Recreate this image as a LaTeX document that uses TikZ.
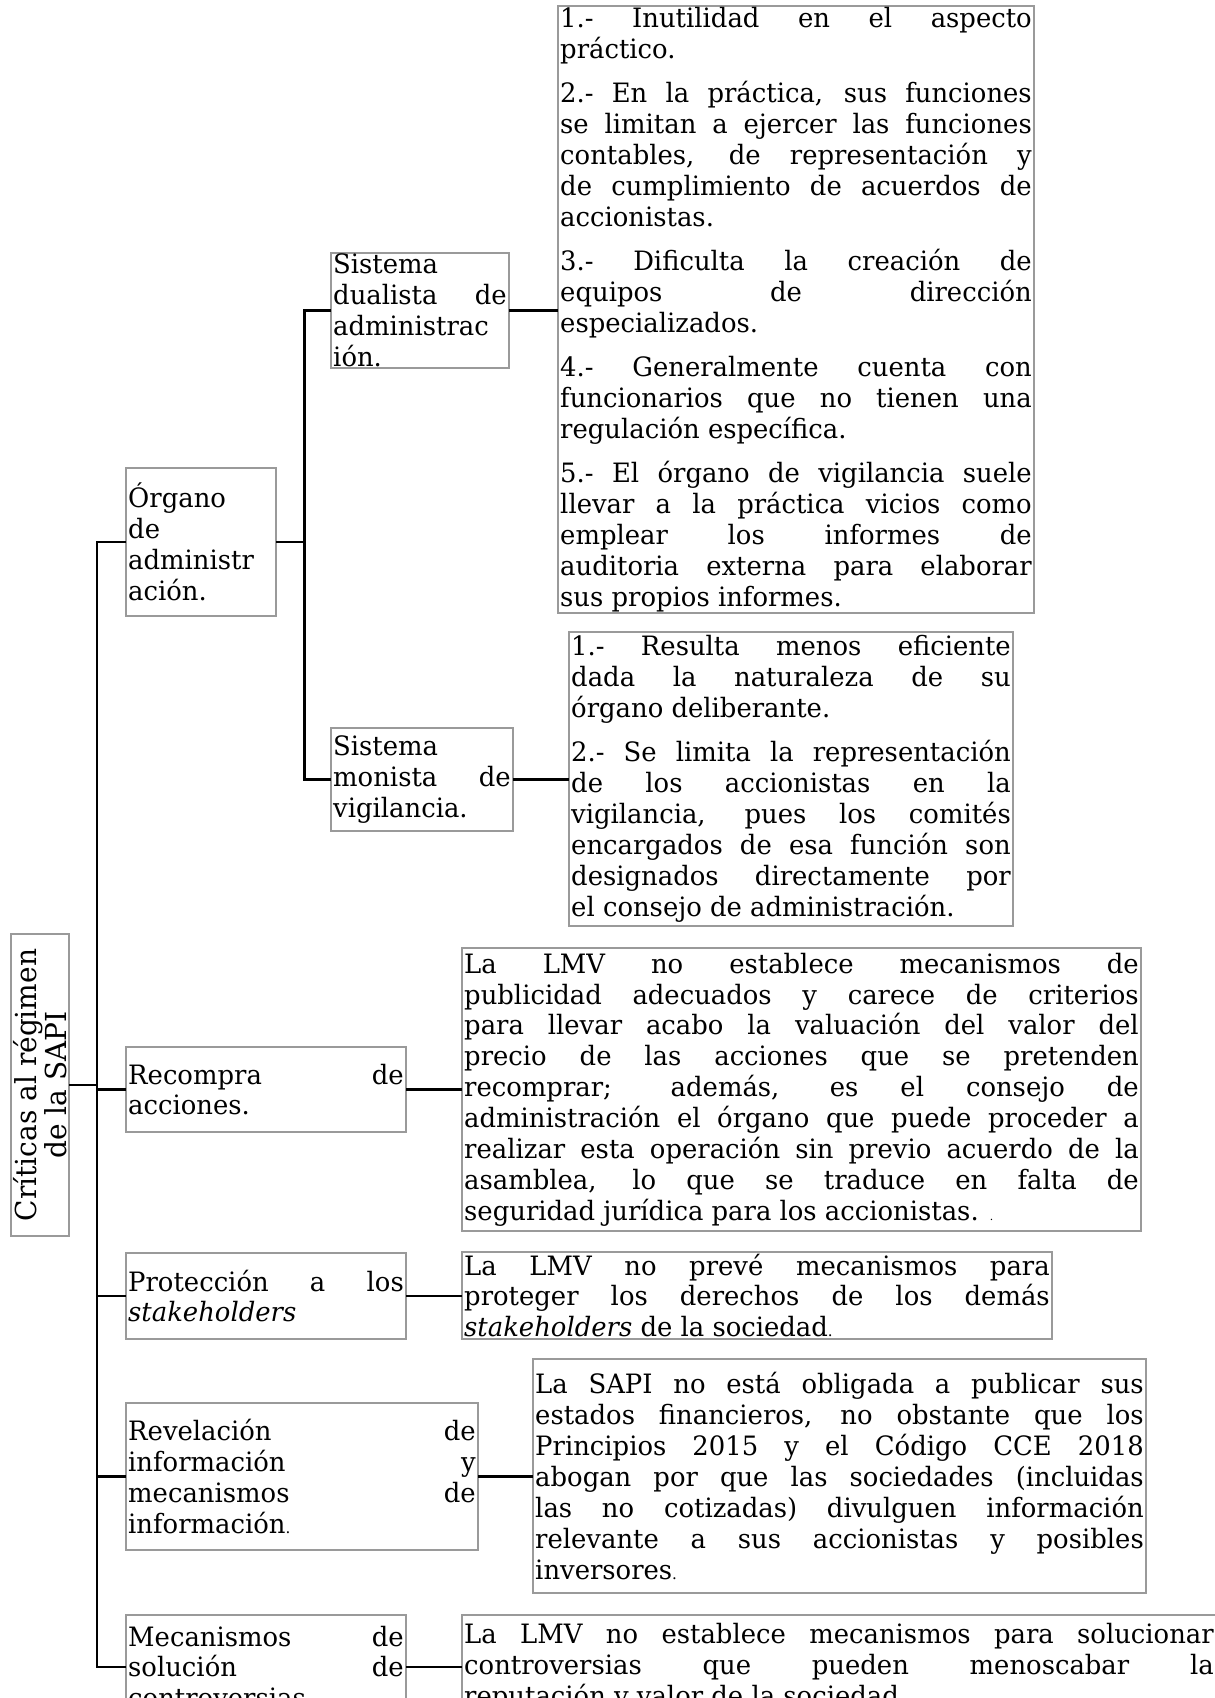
\documentclass[tikz,border=0pt]{standalone}
\usepackage{fontspec}
\setmainfont{DejaVu Serif}[FakeStretch=0.97]
\usetikzlibrary{positioning,calc}
\definecolor{bordeColor}{HTML}{9A9A9A}
\newcommand{\sepp}{\par\vspace{6pt}}
\newcommand{\stk}{\textit{stakeholders}}
\newcommand{\singuion}{\hyphenpenalty=10000\relax\exhyphenpenalty=10000\relax\tolerance=10000\relax}
\tikzset{
	caja/.style={draw=bordeColor, line width=0.7pt, rectangle, inner xsep=1pt, inner ysep=0.5pt,
		outer sep=0, align=justify,
		font=\fontsize{12}{13.9}\selectfont\singuion},
	rama/.style={line width=1.1pt, black}
}
\begin{document}
\begin{tikzpicture}[x=0.45pt,y=-0.45pt]
	\useasboundingbox (0,0) rectangle (1214,1698);
	
	\node[caja, rotate=90, align=center, minimum width=135.9pt, minimum height=26.1pt,
		font=\fontsize{13}{13.5}\selectfont] (raiz) at (40,1085) {Críticas al régimen\\de la SAPI};
	
	\coordinate (tronco) at (97,0);
	\coordinate (ramaorg) at (304.5,0);
	
	% primer nivel
	\node[caja, text width=65.5pt, minimum height=66.6pt] (organo) at (201,542) {Órgano\linebreak de\linebreak administr\linebreak ación.};
	\node[caja, text width=124pt, minimum height=38.25pt] (recompra) at (266,1089.5) {Recompra de\linebreak acciones.};
	\node[caja, text width=124pt, minimum height=38.7pt] (proteccion) at (266,1296) {Protección a los\linebreak \stk};
	\node[caja, text width=156.4pt, minimum height=66.15pt] (revelacion) at (302,1476.5) {Revelación de\linebreak información y\linebreak mecanismos de\linebreak información{\scriptsize.}};
	\node[caja, text width=124pt, minimum height=46.8pt] (mecanismos) at (266,1667) {Mecanismos de\linebreak solución de\linebreak controversias.};
	
	% segundo nivel
	\node[caja, text width=78.1pt, minimum height=50.85pt] (dualista) at (420,310.5) {Sistema\linebreak dualista de\linebreak administrac\linebreak ión.};
	\node[caja, text width=79.9pt, minimum height=46.35pt] (monista) at (422,779.5) {Sistema\linebreak monista de\linebreak vigilancia.};
	
	% textos
	\node[caja, text width=212.2pt, minimum height=271.35pt] (listadual) at (796,309.5) {%
		1.- Inutilidad en el aspecto\linebreak práctico.\sepp
		2.- En la práctica, sus funciones\linebreak se limitan a ejercer las funciones\linebreak contables, de representación y\linebreak de cumplimiento de acuerdos de\linebreak accionistas.\sepp
		3.- Dificulta la creación de\linebreak equipos de dirección\linebreak especializados.\sepp
		4.- Generalmente cuenta con\linebreak funcionarios que no tienen una\linebreak regulación específica.\sepp
		5.- El órgano de vigilancia suele\linebreak llevar a la práctica vicios como\linebreak emplear los informes de\linebreak auditoria externa para elaborar\linebreak sus propios informes.};
	\node[caja, text width=197.8pt, minimum height=132.3pt] (listamon) at (791,779) {%
		1.- Resulta menos eficiente\linebreak dada la naturaleza de su\linebreak órgano deliberante.\sepp
		2.- Se limita la representación\linebreak de los accionistas en la\linebreak vigilancia, pues los comités\linebreak encargados de esa función son\linebreak designados directamente por\linebreak el consejo de administración.};
	\node[caja, text width=303.55pt, minimum height=127.35pt] (txtrecompra) at (801.5,1089.5) {%
		La LMV no establece mecanismos de\linebreak publicidad adecuados y carece de criterios\linebreak para llevar acabo la valuación del valor del\linebreak precio de las acciones que se pretenden\linebreak recomprar; además, es el consejo de\linebreak administración el órgano que puede proceder a\linebreak realizar esta operación sin previo acuerdo de la\linebreak asamblea, lo que se traduce en falta de\linebreak seguridad jurídica para los accionistas. {\tiny.}};
	\node[caja, text width=263.5pt, minimum height=39.15pt] (txtproteccion) at (757,1295.5) {%
		La LMV no prevé mecanismos para\linebreak proteger los derechos de los demás\linebreak \stk{} de la sociedad{\scriptsize.}};
	\node[caja, text width=273.85pt, minimum height=105.3pt] (txtrevelacion) at (839.5,1476) {%
		La SAPI no está obligada a publicar sus\linebreak estados financieros, no obstante que los\linebreak Principios 2015 y el Código CCE 2018\linebreak abogan por que las sociedades (incluidas\linebreak las no cotizadas) divulguen información\linebreak relevante a sus accionistas y posibles\linebreak inversores{\scriptsize.}};
	\node[caja, text width=337.3pt, minimum height=46.8pt] (txtmecanismos) at (839,1667) {%
		La LMV no establece mecanismos para solucionar\linebreak controversias que pueden menoscabar la\linebreak reputación y valor de la sociedad.};
	
	% conectores
	\draw[rama] (raiz.south) -- (raiz.south -| tronco);
	\draw[rama] (organo.west) -| (tronco |- mecanismos.west) -- (mecanismos.west);
	\foreach \n in {recompra,proteccion,revelacion}
		\draw[rama] (tronco |- \n.west) -- (\n.west);
	\draw[rama] (organo.east) -- (organo.east -| ramaorg);
	\draw[rama] (dualista.west) -| (ramaorg |- monista.west) -- (monista.west);
	\draw[rama] (dualista.east) -- (dualista.east -| listadual.west);
	\draw[rama] (monista.east) -- (monista.east -| listamon.west);
	\draw[rama] (recompra.east) -- (recompra.east -| txtrecompra.west);
	\draw[rama] (proteccion.east) -- (proteccion.east -| txtproteccion.west);
	\draw[rama] (revelacion.east) -- (revelacion.east -| txtrevelacion.west);
	\draw[rama] (mecanismos.east) -- (mecanismos.east -| txtmecanismos.west);
\end{tikzpicture}
\end{document}
